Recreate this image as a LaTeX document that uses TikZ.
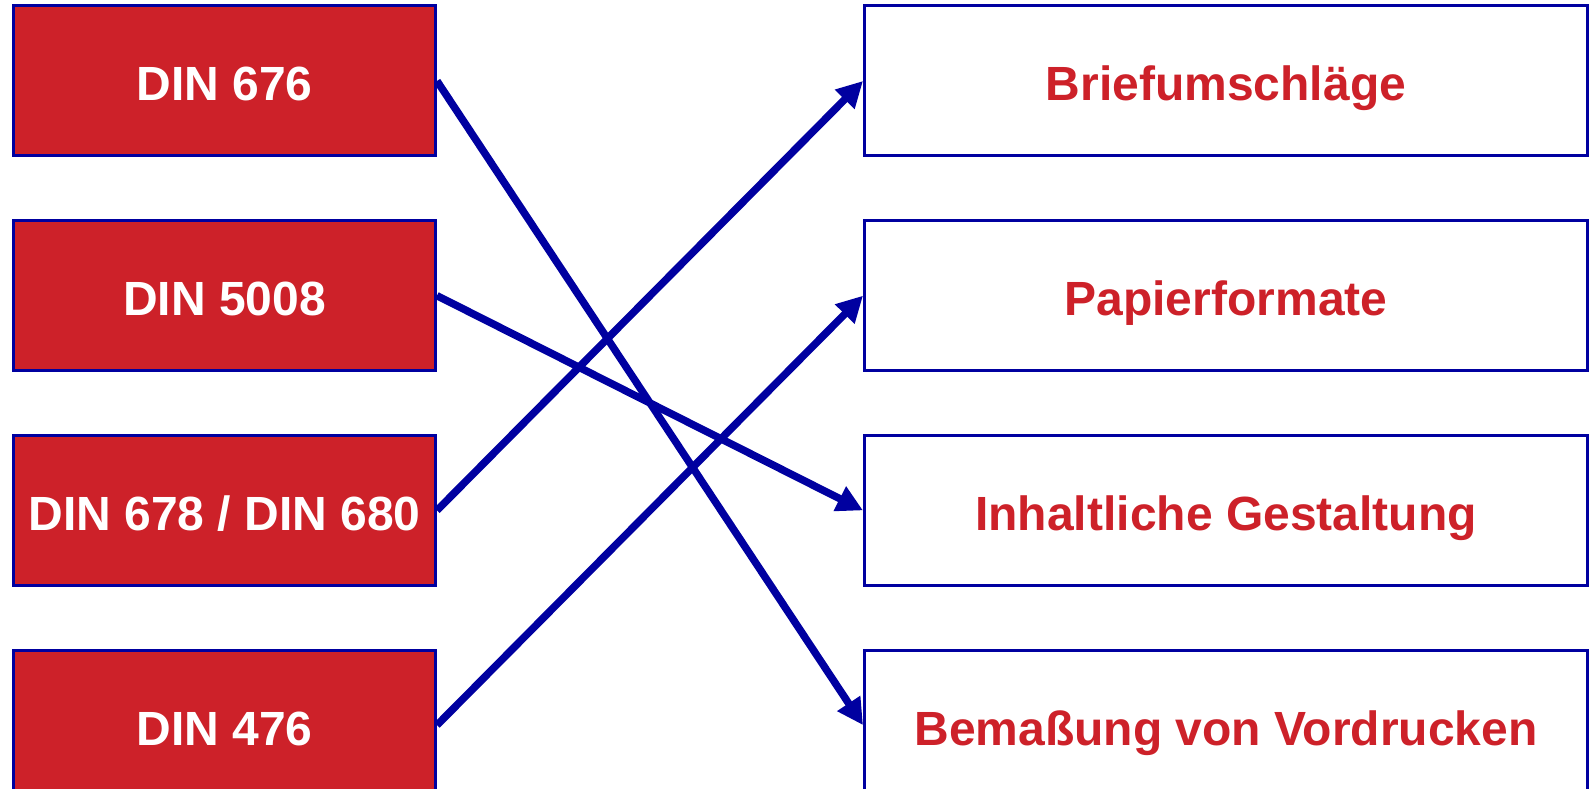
\documentclass[tikz,border=0pt]{standalone}
\usepackage{fontspec}
\setmainfont{Liberation Sans}
\usepackage{tikz}
\usetikzlibrary{positioning, arrows.meta}
\definecolor{dinred}{RGB}{205,33,41}
\definecolor{dinblue}{RGB}{0,0,160}

\begin{document}
\begin{tikzpicture}[x=1pt, y=1pt,
		norm/.style={draw=dinblue, line width=3pt, fill=dinred, text=white, inner sep=0pt,
			minimum width=422pt, minimum height=150pt, text height=40pt, text depth=0pt,
			font=\fontsize{48}{58}\selectfont\bfseries},
		topic/.style={draw=dinblue, line width=3pt, fill=white, text=dinred, inner sep=0pt,
			minimum width=723pt, minimum height=150pt, text height=40pt, text depth=0pt,
			font=\fontsize{48}{58}\selectfont\bfseries},
		link/.style={draw=dinblue, line width=7.5pt, -{Triangle[length=26pt, width=26pt]}},
		node distance=61.7pt and 426pt]
		\useasboundingbox (0,0) rectangle (1591,789);
		
		\node[norm] (n1) at (224.5,708) {DIN 676};
		\node[norm, below=of n1] (n2) {DIN 5008};
		\node[norm, below=of n2] (n3) {DIN 678 / DIN 680};
		\node[norm, below=of n3] (n4) {DIN 476};
		
		\node[topic, right=of n1] (t1) {Briefumschläge};
		\node[topic, right=of n2] (t2) {Papierformate};
		\node[topic, right=of n3] (t3) {Inhaltliche Gestaltung};
		\node[topic, right=of n4] (t4) {Bemaßung von Vordrucken};
		
		\draw (n1.east) edge[link] (t4.west)
		(n2.east) edge[link] (t3.west)
		(n3.east) edge[link] (t1.west)
		(n4.east) edge[link] (t2.west);
	\end{tikzpicture}
\end{document}
